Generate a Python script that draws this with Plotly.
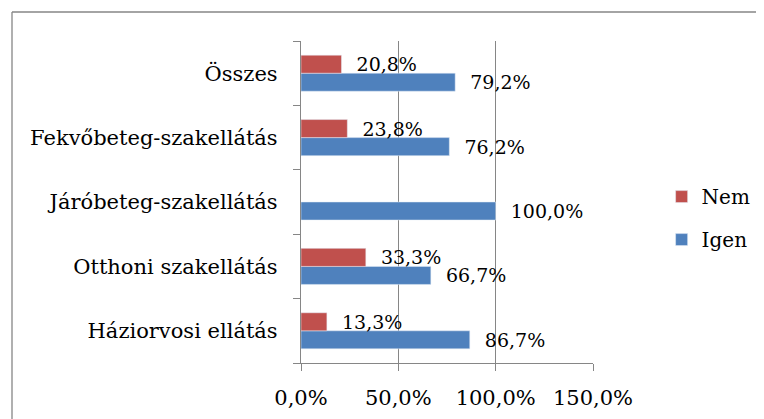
import plotly.graph_objects as go

categories = ["Háziorvosi ellátás", "Otthoni szakellátás", "Járóbeteg-szakellátás",
              "Fekvőbeteg-szakellátás", "Összes"]
igen = [86.7, 66.7, 100.0, 76.2, 79.2]
nem = [13.3, 33.3, None, 23.8, 20.8]
tick_vals = [0, 50, 100, 150]
tick_text = ["0,0%", "50,0%", "100,0%", "150,0%"]

def fmt(v):
    if v is None:
        return ""
    return "\u00a0\u00a0" + f"{v:.1f}%".replace(".", ",")

FONT = "DejaVu Serif"
GREY = "#868686"

# page body has an 8px default margin; figure sized to fit the 764x419 window
FW, FH = 756, 411
L, T = 293, 33
W, H = 292, 322

fig = go.Figure()
fig.add_trace(go.Bar(
    y=categories, x=igen, orientation="h", name="Igen",
    marker=dict(color="#4F81BD"), legendgroup="b", legendrank=2,
    text=[fmt(v) for v in igen], textposition="outside",
    textfont=dict(family=FONT, size=19, color="black"),
    constraintext="none", cliponaxis=False,
))
fig.add_trace(go.Bar(
    y=categories, x=nem, orientation="h", name="Nem",
    marker=dict(color="#C0504D"), legendgroup="a", legendrank=1,
    text=[fmt(v) for v in nem], textposition="outside",
    textfont=dict(family=FONT, size=19, color="black"),
    constraintext="none", cliponaxis=False,
))

fx0 = (12 - 301) / W
fy1 = (363 - 12) / H
fig.update_layout(
    width=FW, height=FH,
    margin=dict(l=L, r=FW - L - W, t=T, b=FH - T - H, autoexpand=False),
    paper_bgcolor="white", plot_bgcolor="white",
    barmode="group", bargap=0.44, bargroupgap=0,
    font=dict(family=FONT, size=20, color="black"),
    showlegend=True,
    legend=dict(x=1.235, y=0.45, xanchor="left", yanchor="middle",
                traceorder="grouped", tracegroupgap=14,
                font=dict(family=FONT, size=20, color="black"),
                bgcolor="rgba(0,0,0,0)"),
    xaxis=dict(range=[0, 150], tickvals=tick_vals, ticktext=tick_text,
               showgrid=True, gridcolor=GREY, gridwidth=1.3,
               showline=True, linecolor=GREY, linewidth=1.3,
               ticks="outside", ticklen=7, tickcolor=GREY, tickwidth=1.3,
               zeroline=False, fixedrange=True, automargin=False,
               ticklabelstandoff=9,
               tickfont=dict(family=FONT, size=21, color="black")),
    yaxis=dict(type="category", categoryorder="array", categoryarray=categories,
               showline=True, linecolor=GREY, linewidth=1.3,
               ticks="outside", tickson="boundaries", ticklen=7,
               tickcolor=GREY, tickwidth=1.3, showgrid=False,
               ticklabelstandoff=18, automargin=False,
               tickfont=dict(family=FONT, size=21, color="black")),
    shapes=[
        dict(type="line", xref="paper", yref="paper",
             x0=fx0, x1=fx0, y0=(363 - 460) / H, y1=fy1,
             line=dict(color=GREY, width=1.3), layer="below"),
        dict(type="line", xref="paper", yref="paper",
             x0=fx0, x1=(800 - 301) / W, y0=fy1, y1=fy1,
             line=dict(color=GREY, width=1.3), layer="below"),
    ],
)

fig.write_html(
    "out.html",
    config={"displayModeBar": False},
    post_script="document.documentElement.style.overflow='hidden';"
                "document.body.style.overflow='hidden';",
)
